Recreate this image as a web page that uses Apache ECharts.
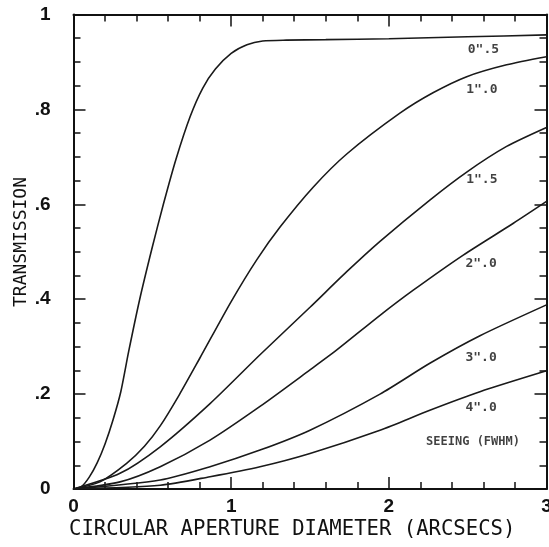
<!DOCTYPE html>
<html>
<head>
<meta charset="utf-8">
<script src="https://cdn.jsdelivr.net/npm/echarts@6/dist/echarts.min.js"></script>
<style>html,body{margin:0;padding:0;background:#fff;}#c{width:549px;height:547px;}</style>
</head>
<body>
<div id="c"></div>
<script>
// Seeing FWHM curves: aperture diameter (arcsec) vs transmission
const x05 = [0,0.05,0.1,0.15,0.2,0.25,0.3,0.35,0.42,0.5,0.57,0.65,0.74,0.82,0.9,1.0,1.1,1.2,1.35,1.6,2.0,2.5,3.0];
const y05 = [0,0.005,0.025,0.055,0.095,0.145,0.205,0.29,0.40,0.51,0.60,0.695,0.785,0.845,0.885,0.918,0.936,0.944,0.946,0.947,0.949,0.953,0.957];
const x10 = [0,0.168,0.337,0.45,0.55,0.67,0.8,1.0,1.162,1.31,1.52,1.733,2.07,2.28,2.494,2.747,3.0];
const y10 = [0,0.015,0.054,0.09,0.133,0.198,0.275,0.395,0.483,0.552,0.636,0.706,0.792,0.835,0.869,0.894,0.911];
const x15 = [0,0.295,0.55,0.866,1.183,1.5,1.733,1.944,2.26,2.494,2.747,3.0];
const y15 = [0,0.033,0.089,0.18,0.283,0.383,0.458,0.522,0.609,0.668,0.722,0.762];
const x20 = [0,0.295,0.55,0.866,1.183,1.5,1.67,1.944,2.155,2.472,2.79,3.0];
const y20 = [0,0.015,0.047,0.103,0.174,0.251,0.293,0.366,0.419,0.493,0.56,0.606];
const x30 = [0,0.55,0.866,1.183,1.5,1.944,2.26,2.578,3.0];
const y30 = [0,0.019,0.047,0.082,0.124,0.2,0.265,0.323,0.388];
const x40 = [0,0.55,0.866,1.183,1.5,1.944,2.26,2.578,3.0];
const y40 = [0,0.008,0.026,0.047,0.075,0.124,0.166,0.205,0.249];

const curveNames = ['0".5','1".0','1".5','2".0','3".0','4".0'];
const labelX = [2.6,2.59,2.59,2.585,2.585,2.585];
const labelY = [0.927,0.841,0.651,0.476,0.276,0.171];
const legendTitle = 'SEEING (FWHM)';
const legendPos = [2.534,0.099];

const xTitle = 'CIRCULAR APERTURE DIAMETER (ARCSECS)';
const yTitle = 'TRANSMISSION';

const xs = [x05,x10,x15,x20,x30,x40];
const ys = [y05,y10,y15,y20,y30,y40];

const FONT = 'DejaVu Sans Mono';
const TICKFONT = 'Liberation Sans';
const INK = '#111';

const chart = echarts.init(document.getElementById('c'), null, {renderer:'canvas'});

const series = xs.map((xa, i) => ({
  type: 'line',
  name: curveNames[i],
  data: xa.map((v, j) => [v, ys[i][j]]),
  smooth: 0.25,
  showSymbol: false,
  symbol: 'none',
  lineStyle: {color: '#1a1a1a', width: 1.6},
  silent: true,
  z: 3
}));

const labelData = curveNames.map((n, i) => ({
  value: [labelX[i], labelY[i]],
  label: {formatter: n, fontSize: 13}
}));
labelData.push({value: legendPos, label: {formatter: legendTitle, fontSize: 12}});

series.push({
  type: 'scatter',
  data: labelData,
  symbol: 'circle',
  symbolSize: 1,
  itemStyle: {color: 'rgba(0,0,0,0)'},
  silent: true,
  z: 5,
  label: {show: true, position: 'inside', color: INK, fontFamily: FONT, fontWeight: 'bold'}
});

const axisLine = {show: true, onZero: false, lineStyle: {color: '#111', width: 2}};
const xTick = {show: true, inside: true, length: 12, lineStyle: {color: '#111', width: 1.5}};
const xMinor = {show: true, splitNumber: 5, length: 7, lineStyle: {color: '#111', width: 1.5}};
const yTick = {show: true, inside: true, length: 12, lineStyle: {color: '#111', width: 1.5}};
const yMinor = {show: true, splitNumber: 4, length: 7, lineStyle: {color: '#111', width: 1.5}};

chart.setOption({
  animation: false,
  backgroundColor: '#fff',
  grid: {left: 73.5, right: 2.5, top: 14.5, bottom: 58, containLabel: false, outerBoundsMode: 'none'},
  graphic: [
    {type: 'text', left: 69, top: 519, silent: true,
     style: {text: xTitle, fill: INK, font: '20.6px "DejaVu Sans Mono"'}},
    {type: 'text', x: 21, y: 242, rotation: Math.PI / 2, silent: true,
     style: {text: yTitle, fill: INK, font: '18px "DejaVu Sans Mono"', textAlign: 'center', textVerticalAlign: 'middle'}}
  ],
  xAxis: [
    {type: 'value', min: 0, max: 3, interval: 1, position: 'bottom',
     axisLine: axisLine, axisTick: xTick, minorTick: xMinor, splitLine: {show: false},
     axisLabel: {margin: 8, color: INK, fontFamily: TICKFONT, fontWeight: 'bold', fontSize: 19}},
    {type: 'value', min: 0, max: 3, interval: 1, position: 'top',
     axisLine: axisLine, axisTick: xTick, minorTick: xMinor, splitLine: {show: false},
     axisLabel: {show: false}}
  ],
  yAxis: [
    {type: 'value', min: 0, max: 1, interval: 0.2, position: 'left',
     axisLine: axisLine, axisTick: yTick, minorTick: yMinor, splitLine: {show: false},
     axisLabel: {margin: 23, color: INK, fontFamily: TICKFONT, fontWeight: 'bold', fontSize: 19,
       formatter: v => v === 0 ? '0' : (Math.abs(v - 1) < 1e-9 ? '1' : ('.' + Math.round(v * 10)))}},
    {type: 'value', min: 0, max: 1, interval: 0.2, position: 'right',
     axisLine: axisLine, axisTick: yTick, minorTick: yMinor, splitLine: {show: false},
     axisLabel: {show: false}}
  ],
  series: series
});
</script>
</body>
</html>
